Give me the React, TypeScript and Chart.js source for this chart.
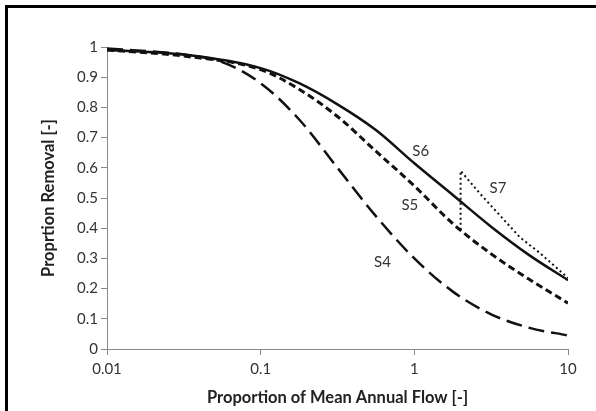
import React, { useEffect, useRef } from "react";
import { Chart, registerables } from "chart.js";

Chart.register(...registerables);

const xTickValues = [0.01, 0.1, 1, 10];
const xTickLabels = ["0.01", "0.1", "1", "10"];

const s4X = [0.01, 0.0316, 0.0562, 0.1, 0.178, 0.316, 0.562, 1, 1.78, 3.16, 5.62, 10];
const s4Y = [0.995, 0.975, 0.95, 0.88, 0.76, 0.6, 0.44, 0.3, 0.19, 0.115, 0.07, 0.045];

const s5X = [0.01, 0.0316, 0.1, 0.178, 0.316, 0.562, 1, 1.78, 3.16, 5.62, 10];
const s5Y = [0.99, 0.97, 0.925, 0.86, 0.77, 0.655, 0.54, 0.415, 0.315, 0.23, 0.152];

const s6X = [0.01, 0.0316, 0.1, 0.178, 0.316, 0.562, 1, 1.78, 3.16, 5.62, 10];
const s6Y = [0.99, 0.975, 0.93, 0.88, 0.81, 0.725, 0.615, 0.51, 0.405, 0.31, 0.228];

const s7X = [2, 2, 2.67, 4.86, 6.56, 10];
const s7Y = [0.395, 0.59, 0.515, 0.37, 0.318, 0.235];

const seriesLabels = ["S4", "S5", "S6", "S7"];
const labelX = [0.62, 0.935, 1.1, 3.5];
const labelY = [0.288, 0.477, 0.655, 0.533];

const toPts = (xs: number[], ys: number[]) => xs.map((x, i) => ({ x, y: ys[i] }));

const FONT = "Lato, 'Open Sans', sans-serif";

const labelPlugin = {
  id: "seriesLabels",
  afterDatasetsDraw(chart: any) {
    const { ctx, scales } = chart;
    ctx.save();
    ctx.font = `15px ${FONT}`;
    ctx.fillStyle = "#333";
    ctx.textAlign = "center";
    ctx.textBaseline = "middle";
    seriesLabels.forEach((t, i) => {
      ctx.fillText(t, scales.x.getPixelForValue(labelX[i]), scales.y.getPixelForValue(labelY[i]));
    });
    ctx.restore();
  },
};

export default function App() {
  const ref = useRef<HTMLCanvasElement>(null);
  useEffect(() => {
    if (!ref.current) return;
    const common = { pointRadius: 0, fill: false, borderColor: "#111", cubicInterpolationMode: "monotone" as const };
    const chart = new Chart(ref.current, {
      type: "line",
      data: {
        datasets: [
          { label: "S4", data: toPts(s4X, s4Y), ...common, borderWidth: 2.5, borderDash: [16, 7] },
          { label: "S5", data: toPts(s5X, s5Y), ...common, borderWidth: 3, borderDash: [7, 4] },
          { label: "S6", data: toPts(s6X, s6Y), ...common, borderWidth: 2.5 },
          {
            label: "S7",
            data: toPts(s7X, s7Y),
            ...common,
            cubicInterpolationMode: "default" as const,
            tension: 0,
            borderWidth: 2,
            borderDash: [2, 3],
          },
        ],
      },
      options: {
        animation: false,
        responsive: false,
        maintainAspectRatio: false,
        layout: { padding: { left: 39, top: 47, right: 28, bottom: 3 } },
        plugins: { legend: { display: false }, tooltip: { enabled: false } },
        scales: {
          x: {
            type: "logarithmic",
            min: 0.01,
            max: 10,
            afterBuildTicks: (s: any) => {
              s.ticks = xTickValues.map((v) => ({ value: v }));
            },
            afterFit: (s: any) => {
              s.height = 59;
            },
            ticks: {
              callback: (v: any) => {
                const i = xTickValues.findIndex((t) => Math.abs(t - v) < 1e-9);
                return i >= 0 ? xTickLabels[i] : "";
              },
              font: { family: FONT, size: 15 },
              color: "#333",
              padding: 5,
              maxRotation: 0,
              autoSkip: false,
            },
            grid: { display: true, drawOnChartArea: false, drawTicks: true, tickLength: 6, color: "#888" },
            border: { display: true, color: "#888", width: 1 },
            title: {
              display: true,
              text: "Proportion of Mean Annual Flow [-]",
              font: { family: FONT, size: 16.5, weight: "bold" },
              color: "#222",
              padding: 0,
            },
          },
          y: {
            type: "linear",
            min: 0,
            max: 1,
            afterFit: (s: any) => {
              s.width = 68;
            },
            ticks: {
              stepSize: 0.1,
              callback: (v: any) => String(Math.round(Number(v) * 10) / 10),
              font: { family: FONT, size: 15 },
              color: "#333",
              padding: 3,
            },
            grid: { display: true, drawOnChartArea: false, drawTicks: true, tickLength: 6, color: "#888" },
            border: { display: true, color: "#888", width: 1 },
            title: {
              display: true,
              text: "Proprtion Removal [-]",
              font: { family: FONT, size: 16.5, weight: "bold" },
              color: "#222",
              padding: 0,
            },
          },
        },
      },
      plugins: [labelPlugin],
    });
    return () => chart.destroy();
  }, []);

  return (
    <div style={{ position: "fixed", left: 0, top: 0, width: 596, height: 411, background: "#fff" }}>
      <canvas ref={ref} width={596} height={411} style={{ position: "absolute", left: 0, top: 0 }} />
      <div
        style={{
          position: "absolute",
          left: 5,
          top: 5,
          width: 600,
          height: 420,
          borderLeft: "3px solid #000",
          borderTop: "3px solid #000",
          pointerEvents: "none",
        }}
      />
    </div>
  );
}
